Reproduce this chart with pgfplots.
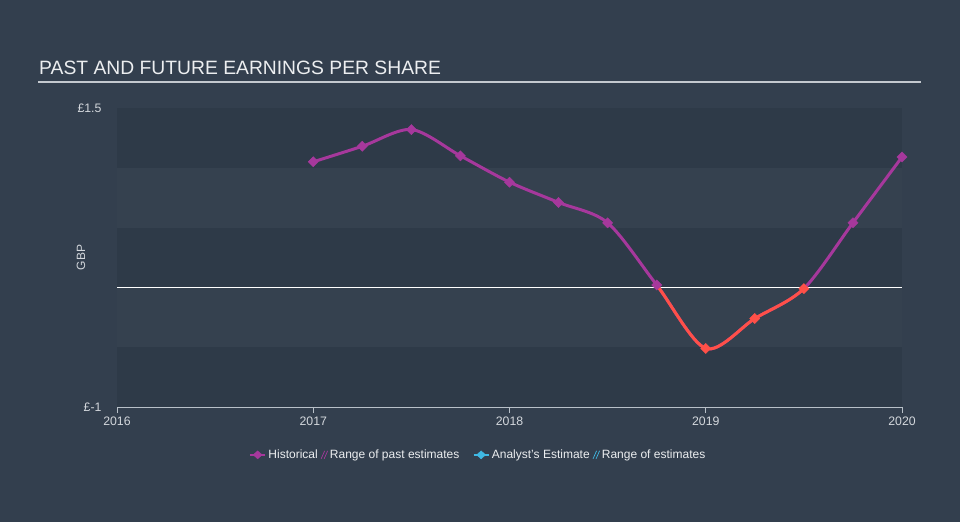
\documentclass[border=0pt]{standalone}
\usepackage{fontspec}
\setmainfont{Liberation Sans}
\usepackage{pgfplots}
\pgfplotsset{compat=1.18}
\definecolor{bg}{HTML}{333F4E}
\definecolor{banddark}{HTML}{2E3A48}
\definecolor{bandlight}{HTML}{35414F}
\definecolor{histc}{HTML}{A6389C}
\definecolor{negc}{HTML}{FF5048}
\definecolor{estc}{HTML}{3FB8E3}
\definecolor{txt}{HTML}{D3D7DC}
\definecolor{titlec}{HTML}{ECEEF0}
\definecolor{linec}{HTML}{C4C9CF}
\definecolor{axisc}{HTML}{B8C0C8}
\pgfplotstableread{
x y
2017.00 1.05
2017.25 1.18
2017.50 1.32
2017.75 1.10
2018.00 0.88
2018.25 0.71
2018.50 0.54
2018.75 0.02
2019.00 -0.51
2019.25 -0.26
2019.50 -0.01
2019.75 0.54
2020.00 1.09
}\eps
\begin{document}
\begin{tikzpicture}[x=1pt,y=1pt]
\fill[bg] (0,0) rectangle (960,522);
\useasboundingbox (0,0) rectangle (960,522);
\node[anchor=base west, text=titlec, font=\fontsize{19.3}{22}\selectfont, inner sep=0pt] at (39,447) {PAST AND FUTURE EARNINGS PER SHARE};
\draw[line width=1.3pt, linec] (38,440) -- (921,440);
\begin{axis}[
  at={(117pt,115pt)}, anchor=south west,
  scale only axis, width=785pt, height=299pt,
  xmin=2016, xmax=2020, ymin=-1, ymax=1.5,
  clip=false,
  axis x line*=bottom, axis y line*=left,
  x axis line style={draw=axisc, line width=0.8pt, -},
  y axis line style={draw=none},
  xtick={2016,2017,2018,2019,2020},
  xticklabels={2016,2017,2018,2019,2020},
  ytick={-1,1.5}, yticklabels={£-1,£1.5},
  xtick align=outside, major tick length=6pt,
  xtick style={draw=axisc, line width=0.8pt},
  ytick style={draw=none},
  tick label style={font=\fontsize{12.3}{14}\selectfont, text=txt},
  yticklabel style={anchor=east, xshift=-12pt},
  /pgf/number format/assume math mode=true,
  ylabel={GBP},
  ylabel style={at={(axis description cs:-0.046,0.5)}, anchor=center, font=\fontsize{12}{14}\selectfont, text=txt},
  legend style={at={(axis description cs:0.46,-0.16)}, anchor=center, draw=none, fill=none,
    font=\fontsize{12}{14}\selectfont, text=titlec,
    /tikz/column 2/.style={column sep=1pt},
    /tikz/column 4/.style={column sep=11pt},
    /tikz/column 6/.style={column sep=1pt}},
  legend columns=4,
  legend cell align=left,
]
\fill[banddark] (axis cs:2016,1) rectangle (axis cs:2020,1.5);
\fill[bandlight] (axis cs:2016,0.5) rectangle (axis cs:2020,1);
\fill[banddark] (axis cs:2016,0) rectangle (axis cs:2020,0.5);
\fill[bandlight] (axis cs:2016,-0.5) rectangle (axis cs:2020,0);
\fill[banddark] (axis cs:2016,-1) rectangle (axis cs:2020,-0.5);
\draw[white, line width=1pt] (axis cs:2016,0) -- (axis cs:2020,0);
\addplot[color=histc, line width=3pt, smooth, forget plot] table[x=x,y=y] {\eps};
\begin{scope}
\clip (axis cs:2016,0) rectangle (axis cs:2020.5,-1.2);
\addplot[color=negc, line width=3pt, smooth, forget plot] table[x=x,y=y] {\eps};
\end{scope}
\addplot[only marks, mark=square*, mark size=3.6pt, mark options={rotate=45, fill=histc, draw=histc}, forget plot] coordinates {
(2017.00,1.05) (2017.25,1.18) (2017.50,1.32) (2017.75,1.10) (2018.00,0.88) (2018.25,0.71) (2018.50,0.54) (2018.75,0.02) (2019.75,0.54) (2020.00,1.09)};
\addplot[only marks, mark=square*, mark size=3.6pt, mark options={rotate=45, fill=negc, draw=negc}, forget plot] coordinates {
(2019.00,-0.51) (2019.25,-0.26) (2019.50,-0.01)};
\addlegendimage{legend image code/.code={\draw[histc, line width=2.5pt] (0pt,0pt) -- (15pt,0pt); \fill[histc] (3pt,0pt) -- (7.5pt,4pt) -- (12pt,0pt) -- (7.5pt,-4pt) -- cycle;}}
\addlegendentry{Historical}
\addlegendimage{legend image code/.code={\draw[histc, line width=0.7pt] (0pt,-4pt) -- (3.5pt,4pt); \draw[histc, line width=0.7pt] (3pt,-4pt) -- (6.5pt,4pt);}}
\addlegendentry{Range of past estimates}
\addlegendimage{legend image code/.code={\draw[estc, line width=2.5pt] (0pt,0pt) -- (15pt,0pt); \fill[estc] (3pt,0pt) -- (7.5pt,4pt) -- (12pt,0pt) -- (7.5pt,-4pt) -- cycle;}}
\addlegendentry{Analyst's Estimate}
\addlegendimage{legend image code/.code={\draw[estc, line width=0.7pt] (0pt,-4pt) -- (3.5pt,4pt); \draw[estc, line width=0.7pt] (3pt,-4pt) -- (6.5pt,4pt);}}
\addlegendentry{Range of estimates}
\end{axis}
\end{tikzpicture}
\end{document}
